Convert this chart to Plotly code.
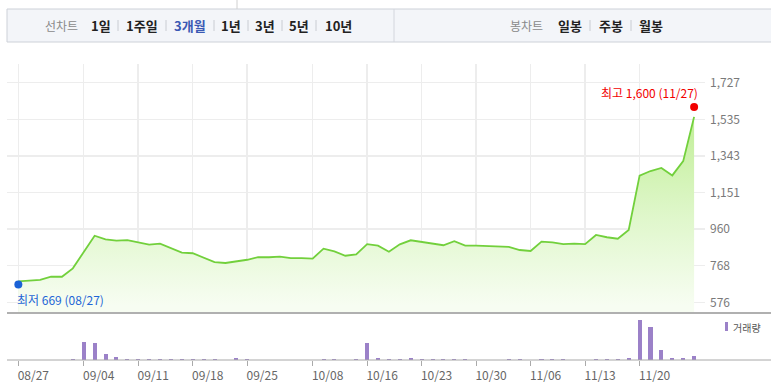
import plotly.graph_objects as go

# ---------------- data ----------------
day_index = list(range(63))
close_price = [686, 691, 693, 710, 710, 754, 840, 925, 906, 899,
               902, 892, 878, 883, 859, 836, 833, 810, 787, 782,
               789, 799, 813, 812, 815, 808, 807, 805, 857, 843,
               820, 827, 881, 873, 841, 880, 901, 892, 883, 875,
               896, 873, 873, 871, 867, 866, 850, 845, 894, 890,
               881, 883, 881, 929, 917, 909, 955, 1240, 1264, 1280,
               1241, 1316, 1548]
volume = [0, 0, 0, 0, 0, 22000, 442000, 418000, 142000, 83000,
          25000, 25000, 24000, 25000, 25000, 24000, 25000, 25000, 25000, 0,
          58000, 25000, 0, 0, 0, 0, 0, 0, 25000, 25000,
          0, 25000, 418000, 58000, 25000, 25000, 58000, 25000, 25000, 25000,
          25000, 25000, 0, 0, 0, 25000, 25000, 0, 25000, 25000,
          25000, 0, 0, 25000, 25000, 25000, 58000, 992000, 832000, 250000,
          58000, 58000, 92000]
tick_index = [0, 6, 11, 16, 21, 27, 32, 37, 42, 47, 52, 57]
tick_dates = ['08/27', '09/04', '09/11', '09/18', '09/25', '10/08',
              '10/16', '10/23', '10/30', '11/06', '11/13', '11/20']
price_ticks = [576, 767.83, 959.67, 1151.5, 1343.33, 1535.17, 1727]
price_tick_labels = ['576', '768', '960', '1,151', '1,343', '1,535', '1,727']
high_point = (62, 1600, '최고 1,600 (11/27)')
low_point = (0, 669, '최저 669 (08/27)')
line_menu = ['1일', '1주일', '3개월', '1년', '3년', '5년', '10년']
candle_menu = ['일봉', '주봉', '월봉']

# ---------------- layout helpers ----------------
W, H = 771, 390
def px(x):
    return x / W
def py(y):
    return 1 - y / H

FONT = 'Noto Sans CJK KR'
GREEN = '#72d03c'

fig = go.Figure()

fig.add_trace(go.Scatter(
    x=day_index, y=close_price, mode='lines',
    line=dict(color=GREEN, width=1.8),
    fill='tozeroy',
    fillgradient=dict(type='vertical',
                      colorscale=[[0, '#f7fdf2'], [0.45, '#e0f7cc'], [1, '#c0ee96']],
                      start=560, stop=1560),
    xaxis='x', yaxis='y', hoverinfo='skip'))

fig.add_trace(go.Scatter(
    x=[high_point[0]], y=[high_point[1]], mode='markers',
    marker=dict(color='#f20000', size=8), xaxis='x', yaxis='y', hoverinfo='skip'))
fig.add_trace(go.Scatter(
    x=[low_point[0]], y=[low_point[1]], mode='markers',
    marker=dict(color='#1b62d6', size=8), xaxis='x', yaxis='y', hoverinfo='skip'))

fig.add_trace(go.Bar(
    x=day_index, y=volume, marker=dict(color='#9b81c8', line=dict(width=0)),
    width=0.37, xaxis='x2', yaxis='y2', hoverinfo='skip'))

xdom = [px(7), px(705)]
xrange_ = [-1.04, 63]

fig.update_layout(
    width=W, height=H,
    margin=dict(l=0, r=0, t=0, b=0),
    paper_bgcolor='white', plot_bgcolor='white',
    showlegend=False,
    bargap=0,
    font=dict(family=FONT),
    xaxis=dict(domain=xdom, range=xrange_, tickvals=tick_index,
               showticklabels=False, showgrid=True, gridcolor='#ededed',
               gridwidth=1.5, zeroline=False, showline=False, ticks='',
               anchor='y'),
    yaxis=dict(domain=[py(313), py(64)], range=[519.9, 1825],
               side='right', tickvals=price_ticks, ticktext=price_tick_labels,
               tickfont=dict(family=FONT, size=12, color='#7a7a7a'),
               showgrid=True, gridcolor='#ededed', gridwidth=1.5,
               zeroline=False, showline=False, ticks='',
               ticklabelstandoff=4, anchor='x'),
    xaxis2=dict(domain=xdom, range=xrange_, tickvals=tick_index,
                ticktext=tick_dates, ticks='outside', ticklen=5,
                tickcolor='#aaaaaa', tickwidth=1,
                tickfont=dict(family=FONT, size=12, color='#666666'),
                ticklabelshift=15,
                showgrid=False, zeroline=False, showline=False, anchor='y2'),
    yaxis2=dict(domain=[py(360), py(313)], range=[0, 1175000],
                showticklabels=False, showgrid=False, zeroline=False,
                showline=False, ticks='', anchor='x2'),
)

shapes = []
# top menu box
shapes.append(dict(type='rect', xref='paper', yref='paper',
                   x0=px(7), x1=px(772), y0=py(42), y1=py(9),
                   fillcolor='#f3f5f9', line=dict(color='#cdd1d8', width=1), layer='below'))
shapes.append(dict(type='line', xref='paper', yref='paper',
                   x0=px(394), x1=px(394), y0=py(42), y1=py(9),
                   line=dict(color='#d3d6dd', width=1)))
shapes.append(dict(type='line', xref='paper', yref='paper',
                   x0=px(237), x1=px(237), y0=py(9), y1=py(0),
                   line=dict(color='#d0d0d0', width=1)))
for sx in [118, 166, 214, 248, 282, 316, 590, 631]:
    shapes.append(dict(type='line', xref='paper', yref='paper',
                       x0=px(sx), x1=px(sx), y0=py(31), y1=py(20),
                       line=dict(color='#c9ccd2', width=1)))
# panel separators
shapes.append(dict(type='line', xref='paper', yref='paper',
                   x0=px(7), x1=1, y0=py(313), y1=py(313),
                   line=dict(color='#b0b0b0', width=2)))
shapes.append(dict(type='line', xref='paper', yref='paper',
                   x0=px(7), x1=1, y0=py(360), y1=py(360),
                   line=dict(color='#a8a8a8', width=1)))
# volume legend swatch
shapes.append(dict(type='rect', xref='paper', yref='paper',
                   x0=px(725), x1=px(728), y0=py(331), y1=py(322),
                   fillcolor='#9b81c8', line=dict(width=0)))
fig.update_layout(shapes=shapes)

ann = []
ann.append(dict(x=high_point[0], y=high_point[1], xref='x', yref='y',
                text=high_point[2], showarrow=False, xanchor='right',
                yanchor='middle', xshift=5.5, yshift=14,
                font=dict(family=FONT, size=12, color='#f20000')))
ann.append(dict(x=low_point[0], y=low_point[1], xref='x', yref='y',
                text=low_point[2], showarrow=False, xanchor='left',
                yanchor='middle', xshift=-3, yshift=-15,
                font=dict(family=FONT, size=12, color='#1f66d6')))
ann.append(dict(x=px(731), y=py(327), xref='paper', yref='paper',
                text='거래량', showarrow=False, xanchor='left', yanchor='middle',
                font=dict(family=FONT, size=10, color='#555555')))
# top menu texts
ann.append(dict(x=px(61), y=py(25.5), xref='paper', yref='paper', text='선차트',
                showarrow=False, xanchor='center', yanchor='middle',
                font=dict(family=FONT, size=12, color='#8a8a8a')))
menu_x = [101, 142, 190, 231, 265, 299, 338]
for t, mx in zip(line_menu, menu_x):
    col = '#3b59b4' if t == '3개월' else '#222222'
    ann.append(dict(x=px(mx), y=py(25.5), xref='paper', yref='paper',
                    text='<b>%s</b>' % t, showarrow=False,
                    xanchor='center', yanchor='middle',
                    font=dict(family=FONT, size=13, color=col)))
ann.append(dict(x=px(526), y=py(25.5), xref='paper', yref='paper', text='봉차트',
                showarrow=False, xanchor='center', yanchor='middle',
                font=dict(family=FONT, size=12, color='#8a8a8a')))
for t, mx in zip(candle_menu, [570, 611, 651]):
    ann.append(dict(x=px(mx), y=py(25.5), xref='paper', yref='paper',
                    text='<b>%s</b>' % t, showarrow=False,
                    xanchor='center', yanchor='middle',
                    font=dict(family=FONT, size=13, color='#222222')))
fig.update_layout(annotations=ann)

fig.write_html('out.html',
               config={'displayModeBar': False, 'staticPlot': True},
               post_script="document.body.style.margin='0';document.body.style.padding='0';")
